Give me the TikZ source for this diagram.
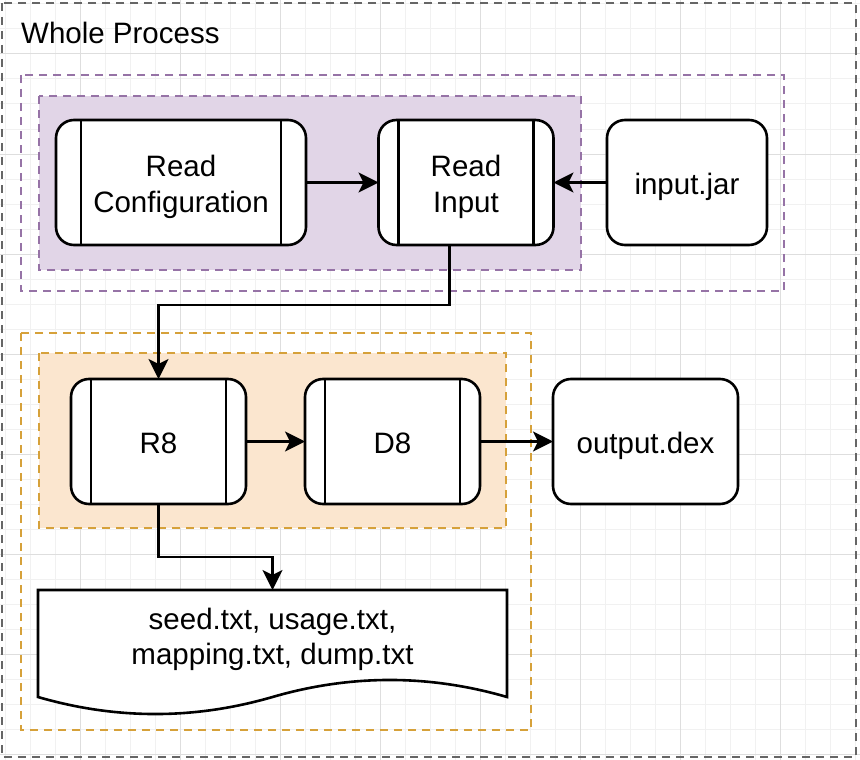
\documentclass[tikz,border=0pt]{standalone}
\usepackage{fontspec}
\setmainfont{Liberation Sans}
\usetikzlibrary{arrows.meta}
\definecolor{gridminor}{HTML}{F1F1F1}
\definecolor{gridmajor}{HTML}{DEDEDE}
\definecolor{purpleline}{HTML}{9673A6}
\definecolor{purplefill}{HTML}{E1D5E7}
\definecolor{orangeline}{HTML}{D6A13A}
\definecolor{orangefill}{HTML}{FBE6CF}
\definecolor{outerline}{HTML}{666666}
\newcommand\lblfont{\fontsize{29.5pt}{35.5pt}\selectfont}
\newcommand\twolines[2]{\rule{0pt}{31pt}#1\\#2\rule[-7pt]{0pt}{7pt}}
\begin{document}
\begin{tikzpicture}[x=1pt,y=-1pt,
  procoff/.store in=\procoff, procoff=20pt,
  minorgrid/.style={draw=gridminor,line width=1pt},
  majorgrid/.style={draw=gridmajor,line width=1pt},
  dashbox/.style={line width=2.4pt,dash pattern=on 8pt off 6pt},
  basebox/.style={draw,line width=2.6pt,fill=white,rounded corners=18pt,
    minimum height=125pt,outer sep=0pt,inner sep=0pt,font=\lblfont,align=center},
  oneline/.style={text height=30pt,text depth=6pt},
  procbox/.style={basebox,
    path picture={
      \draw[line width=2.4pt] ([xshift=\procoff]path picture bounding box.north west) -- ([xshift=\procoff]path picture bounding box.south west);
      \draw[line width=2.4pt] ([xshift=-\procoff]path picture bounding box.north east) -- ([xshift=-\procoff]path picture bounding box.south east);
    }},
  arr/.style={line width=2.3pt,-{Stealth[length=20pt,width=20pt,inset=5pt]}},
  conn/.style={line width=2.3pt}
]
\useasboundingbox (0,0) rectangle (860,760);
\fill[white] (0,0) rectangle (860,760);
% grid
\foreach \x in {5,30,...,855} \draw[minorgrid] (\x,0) -- (\x,760);
\foreach \y in {4,29,...,754} \draw[minorgrid] (0,\y) -- (860,\y);
\foreach \x in {80,180,...,780} \draw[majorgrid] (\x,0) -- (\x,760);
\foreach \y in {54,154,...,754} \draw[majorgrid] (0,\y) -- (860,\y);

% containers
\draw[dashbox,draw=outerline] (2,3) rectangle (856,757);
\node[font=\lblfont,anchor=base west,inner sep=0pt] (title) at (21,43.3) {Whole Process};
\draw[dashbox,draw=purpleline] (21,75) rectangle (784,291);
\draw[dashbox,draw=purpleline,fill=purplefill] (39,96) rectangle (581,270);
\draw[dashbox,draw=orangeline] (21,333) rectangle (531,730);
\draw[dashbox,draw=orangeline,fill=orangefill] (39,353) rectangle (506,528);

% nodes
\node[procbox,procoff=25pt,minimum width=250pt] (cfg) at (181,182.5) {\twolines{Read}{Configuration}};
\node[procbox,minimum width=175pt] (rin) at (466,182.5) {\twolines{Read}{Input}};
\node[basebox,oneline,minimum width=160pt] (ijar) at (687,182.5) {input.jar};
\node[procbox,oneline,minimum width=175pt] (r8) at (158.5,441.5) {R8};
\node[procbox,oneline,minimum width=175pt] (d8) at (392.5,441.5) {D8};
\node[basebox,oneline,minimum width=185pt] (odex) at (645.5,441.5) {output.dex};

% document shape
\node[minimum width=469pt,minimum height=126pt,inner sep=0pt,outer sep=0pt] (doc) at (272.5,653) {};
\draw[line width=2.6pt,fill=white] (doc.north west) -- (doc.north east) -- (507,697)
  .. controls (428.8,674.3) and (350.7,674.3) .. (272.5,697)
  .. controls (194.3,719.7) and (116.2,719.7) .. (38,697) -- cycle;
\node[font=\lblfont,align=center,inner sep=0pt] (doctext) at (272.5,634.75) {\twolines{seed.txt, usage.txt,}{mapping.txt, dump.txt}};

% connectors
\draw[arr] (cfg.east) -- (rin.west);
\draw[arr] (ijar.west) -- (rin.east);
\draw[arr] (449.5,0 |- rin.south) -- (449.5,305) -| (r8.north);
\draw[arr] (r8.east) -- (d8.west);
\draw[arr] (d8.east) -- (odex.west);
\draw[arr] (r8.south) -- (158.5,557) -| (doc.north);
\end{tikzpicture}
\end{document}
